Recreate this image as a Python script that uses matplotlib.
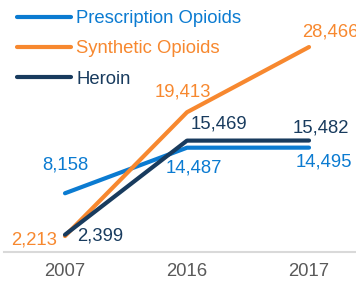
import matplotlib.pyplot as plt

plt.rcParams['font.family'] = ['Liberation Sans', 'DejaVu Sans']

# data
years = ["2007", "2016", "2017"]
prescription = [8158, 14487, 14495]
synthetic = [2213, 19413, 28466]
heroin = [2399, 15469, 15482]

series = [
    ("Prescription Opioids", prescription, "#0B7BD1"),
    ("Synthetic Opioids", synthetic, "#F7882F"),
    ("Heroin", heroin, "#183B5E"),
]

# label offsets in pixels (dx, dy, ha) per point
offsets = {
    "Prescription Opioids": [(0, 28, "center"), (7, -20, "center"), (15, -14, "center")],
    "Synthetic Opioids": [(-8, -4, "right"), (-4, 20, "center"), (-7, 15, "left")],
    "Heroin": [(12, -1, "left"), (4, 17, "left"), (12, 13, "center")],
}

fs = 13.3

fig = plt.figure(figsize=(3.56, 2.83), dpi=100)
ax = fig.add_axes([4 / 356, 31 / 283, 366 / 356, 252 / 283])

x = list(range(len(years)))
for name, vals, col in series:
    ax.plot(x, vals, color=col, lw=3, label=name, solid_capstyle="round")
    for i, v in enumerate(vals):
        dx, dy, ha = offsets[name][i]
        ax.annotate(f"{v:,}", (i, v), xytext=(dx, dy), textcoords="offset pixels",
                    ha=ha, va="center", color=col, fontsize=fs)

ax.set_xlim(-0.5, 2.5)
ax.set_ylim(0, 35000)
ax.set_xticks(x)
ax.set_xticklabels(years, fontsize=fs, color="#595959")
ax.tick_params(length=0, pad=8)
ax.set_yticks([])
for s in ["top", "left", "right"]:
    ax.spines[s].set_visible(False)
ax.spines["bottom"].set_color("#D9D9D9")
ax.spines["bottom"].set_linewidth(1.5)

ax.legend(loc="upper left", bbox_to_anchor=(2 / 366, 1.004), frameon=False, fontsize=fs,
          handlelength=2.9, handletextpad=0.3, labelspacing=0.72,
          labelcolor="linecolor", borderaxespad=0.2)

fig.savefig("out.png", dpi=100)
